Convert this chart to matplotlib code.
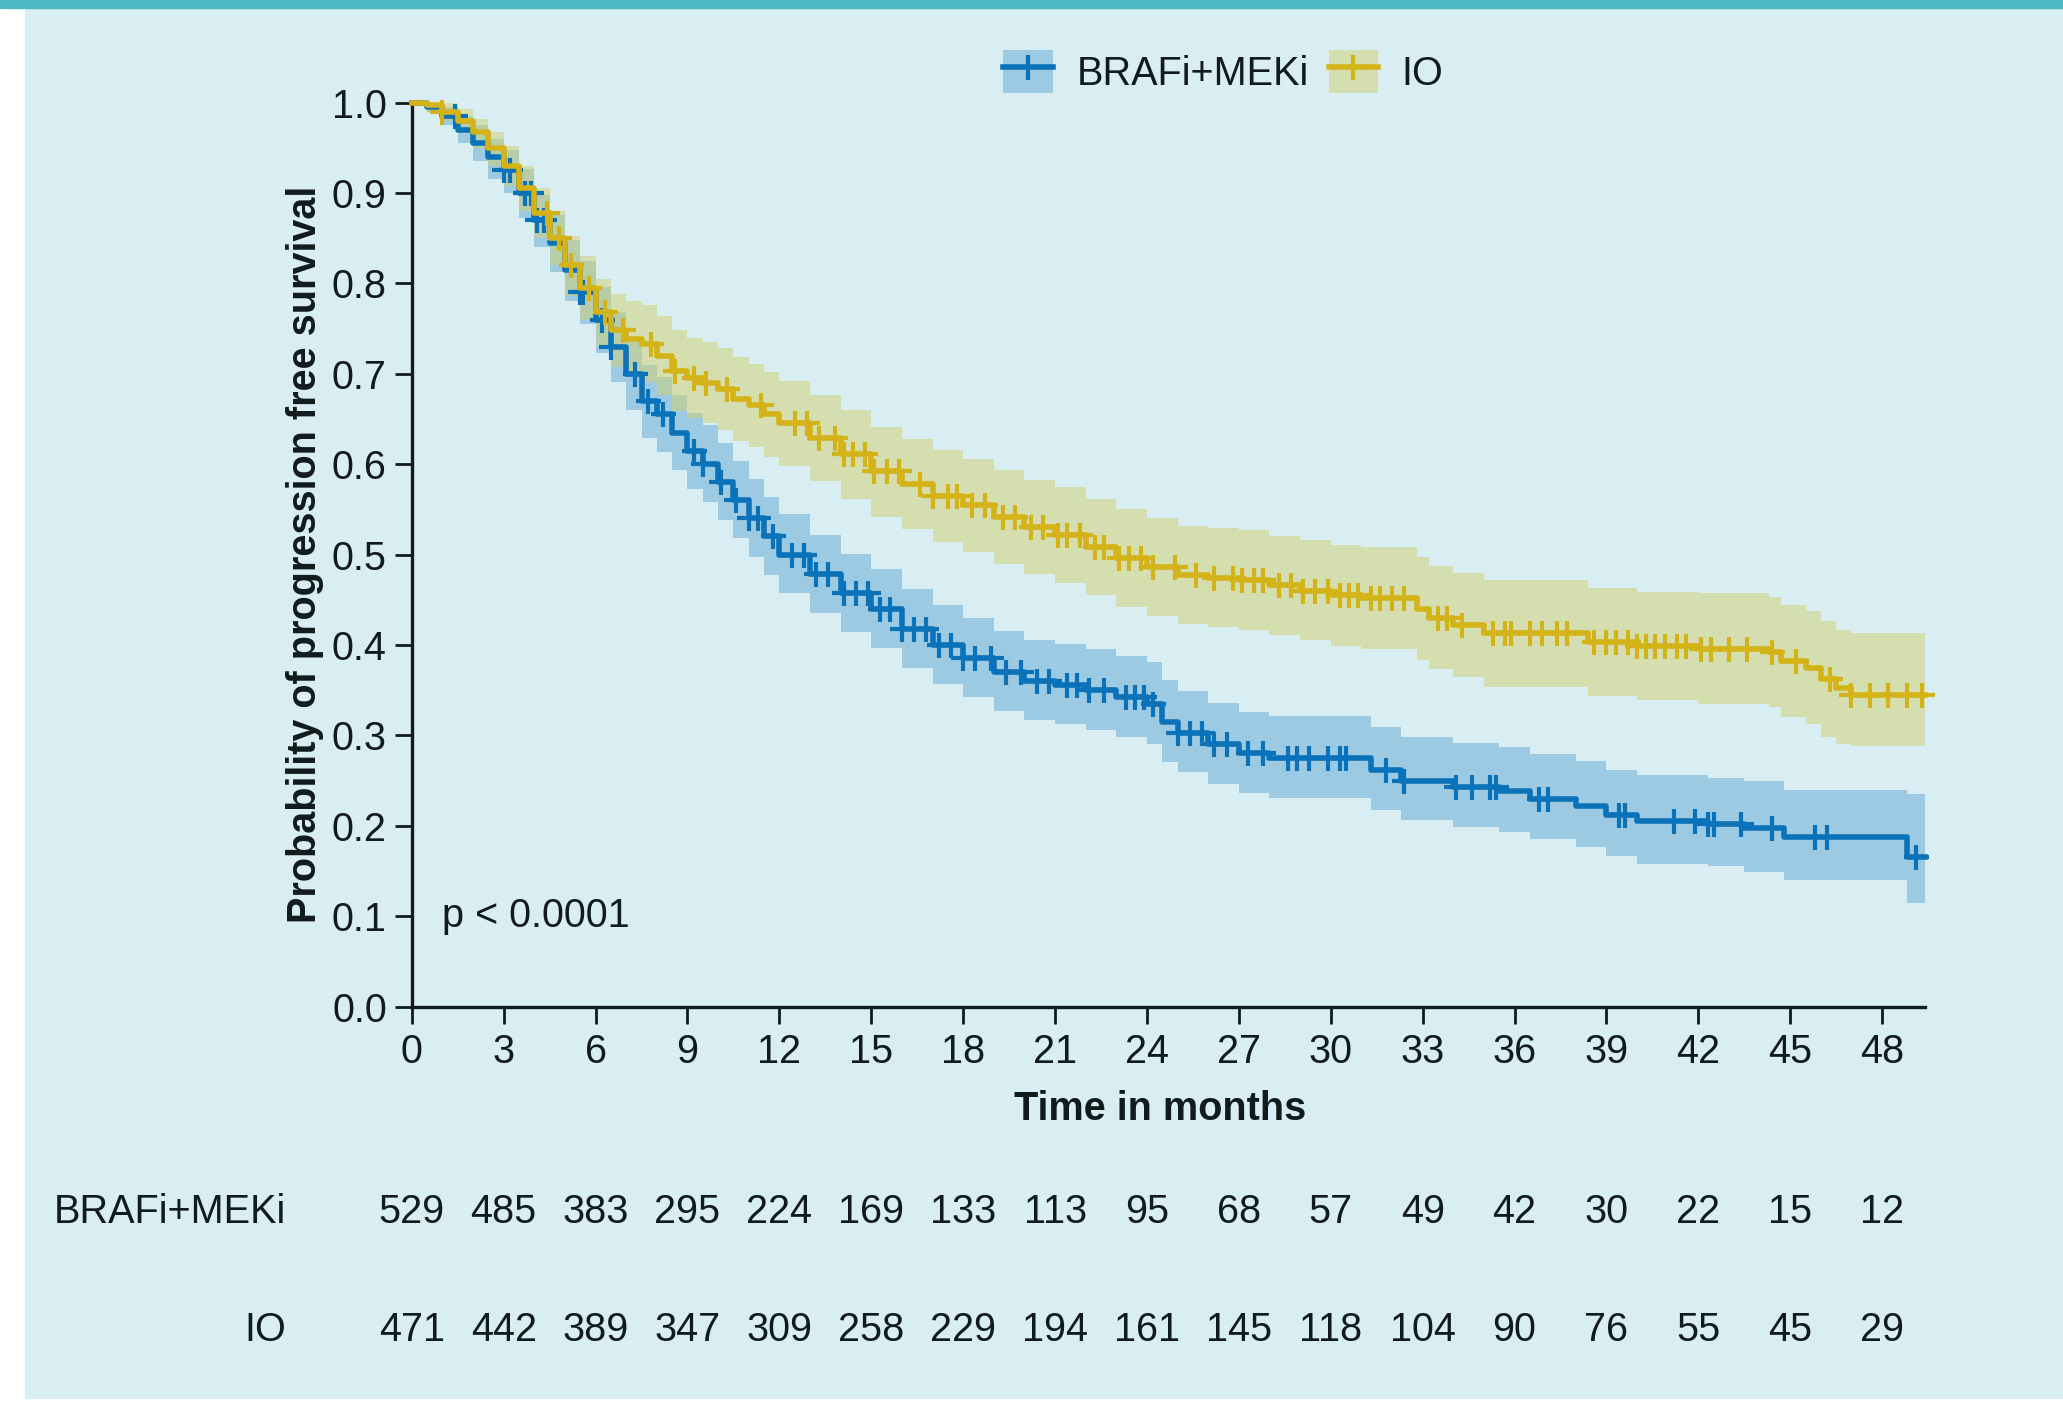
import numpy as np
import matplotlib
matplotlib.use("Agg")
import matplotlib.pyplot as plt
from matplotlib.patches import Rectangle, Patch
from matplotlib.lines import Line2D

plt.rcParams['font.family'] = ['Liberation Sans', 'DejaVu Sans']

# ---- data ----
groups = ["BRAFi+MEKi", "IO"]

# BRAFi+MEKi step curve (time in months, survival, 95% CI)
t_braf = [0, 0.5, 1, 1.5, 2, 2.5, 3, 3.5, 4, 4.5, 5, 5.5, 6, 6.5, 7, 7.5, 8, 8.5, 9, 9.5,
          10, 10.5, 11, 11.5, 12, 13, 14, 15, 16, 17, 18, 19, 20, 21, 22, 23, 24, 24.5,
          25, 26, 27, 28, 31.3, 32.3, 34, 35.5, 36.5, 38, 39, 40, 42.3, 43.5, 44.8, 48.8]
s_braf = [1.0, 0.995, 0.985, 0.97, 0.955, 0.94, 0.925, 0.9, 0.87, 0.845, 0.815, 0.79, 0.76,
          0.73, 0.70, 0.67, 0.655, 0.635, 0.615, 0.6, 0.58, 0.56, 0.54, 0.52, 0.50, 0.478,
          0.457, 0.44, 0.418, 0.40, 0.385, 0.37, 0.36, 0.356, 0.35, 0.342, 0.335, 0.315,
          0.303, 0.29, 0.28, 0.275, 0.262, 0.25, 0.243, 0.238, 0.23, 0.222, 0.212, 0.205,
          0.202, 0.197, 0.188, 0.165]
lo_braf = [1.0, 0.99, 0.975, 0.955, 0.935, 0.915, 0.9, 0.872, 0.84, 0.813, 0.781, 0.755,
           0.723, 0.691, 0.66, 0.629, 0.614, 0.594, 0.573, 0.558, 0.538, 0.518, 0.497,
           0.477, 0.457, 0.435, 0.414, 0.397, 0.375, 0.357, 0.342, 0.327, 0.317, 0.312,
           0.306, 0.298, 0.29, 0.271, 0.259, 0.246, 0.236, 0.231, 0.217, 0.206, 0.199,
           0.193, 0.185, 0.176, 0.166, 0.158, 0.155, 0.149, 0.14, 0.115]
hi_braf = [1.0, 1.0, 0.995, 0.985, 0.975, 0.96, 0.948, 0.927, 0.898, 0.876, 0.848, 0.825,
           0.796, 0.768, 0.74, 0.71, 0.696, 0.677, 0.657, 0.643, 0.623, 0.604, 0.584,
           0.564, 0.545, 0.522, 0.501, 0.484, 0.462, 0.444, 0.43, 0.415, 0.405, 0.401,
           0.395, 0.388, 0.381, 0.361, 0.349, 0.336, 0.326, 0.321, 0.309, 0.298, 0.292,
           0.287, 0.279, 0.272, 0.262, 0.256, 0.253, 0.249, 0.24, 0.235]
cens_braf = [1.4, 3.0, 3.2, 3.7, 3.9, 4.1, 4.3, 5.5, 5.6, 6.2, 6.5, 7.3, 7.7, 8.2, 9.2, 9.5,
             10.1, 10.6, 11.0, 11.3, 11.8, 12.4, 12.8, 13.2, 13.6, 14.1, 14.5, 14.9, 15.3,
             15.6, 16.0, 16.4, 16.8, 17.2, 17.6, 18.0, 18.4, 18.9, 19.4, 19.9, 20.4, 20.8,
             21.4, 21.7, 22.1, 22.6, 23.3, 23.6, 23.9, 24.2, 25.0, 25.4, 25.8, 26.2, 26.6,
             27.3, 27.8, 28.6, 28.9, 29.3, 29.9, 30.3, 30.5, 31.8, 32.4, 34.1, 34.6, 35.2,
             35.4, 36.8, 37.1, 39.4, 39.6, 41.2, 41.9, 42.3, 42.5, 43.4, 44.4, 45.8, 46.2,
             49.1]

# IO step curve
t_io = [0, 0.5, 1, 1.5, 2, 2.5, 3, 3.5, 4, 4.5, 5, 5.5, 6, 6.5, 7, 7.5, 8, 8.5, 9, 9.5,
        10, 10.5, 11, 11.5, 12, 13, 14, 15, 16, 17, 18, 19, 20, 21, 22, 23, 24, 25, 26,
        27, 28, 29, 30, 31, 32.8, 33.2, 34, 35, 38.4, 40, 42, 44.3, 44.7, 45.5, 46, 46.5, 47]
s_io = [1.0, 0.997, 0.99, 0.98, 0.967, 0.95, 0.93, 0.905, 0.878, 0.85, 0.82, 0.795, 0.768,
        0.748, 0.738, 0.733, 0.72, 0.703, 0.695, 0.69, 0.683, 0.672, 0.665, 0.655, 0.645,
        0.629, 0.611, 0.592, 0.578, 0.565, 0.555, 0.542, 0.531, 0.522, 0.508, 0.496, 0.486,
        0.477, 0.474, 0.472, 0.466, 0.46, 0.455, 0.452, 0.44, 0.43, 0.422, 0.413, 0.403,
        0.399, 0.396, 0.392, 0.382, 0.375, 0.362, 0.352, 0.345]
lo_io = [1.0, 0.99, 0.98, 0.966, 0.95, 0.93, 0.908, 0.88, 0.85, 0.82, 0.786, 0.76, 0.73,
         0.708, 0.697, 0.691, 0.677, 0.659, 0.651, 0.646, 0.638, 0.626, 0.619, 0.608, 0.598,
         0.581, 0.562, 0.542, 0.528, 0.514, 0.503, 0.49, 0.478, 0.469, 0.455, 0.442, 0.432,
         0.423, 0.42, 0.417, 0.411, 0.405, 0.399, 0.396, 0.383, 0.373, 0.364, 0.354, 0.343,
         0.339, 0.335, 0.331, 0.32, 0.312, 0.298, 0.29, 0.288]
hi_io = [1.0, 1.0, 1.0, 0.993, 0.982, 0.968, 0.952, 0.93, 0.906, 0.88, 0.852, 0.83, 0.805,
         0.788, 0.78, 0.776, 0.764, 0.748, 0.74, 0.735, 0.728, 0.718, 0.711, 0.702, 0.692,
         0.677, 0.66, 0.641, 0.628, 0.616, 0.606, 0.594, 0.583, 0.575, 0.562, 0.55, 0.54,
         0.532, 0.529, 0.527, 0.521, 0.516, 0.511, 0.508, 0.497, 0.487, 0.48, 0.472, 0.463,
         0.459, 0.457, 0.453, 0.444, 0.438, 0.426, 0.416, 0.413]
cens_io = [1.0, 4.4, 4.8, 5.2, 5.8, 6.3, 6.9, 7.8, 8.6, 9.2, 9.6, 10.3, 11.4, 12.5, 12.9,
           13.3, 13.8, 14.1, 14.4, 14.8, 15.1, 15.5, 15.9, 16.6, 17.0, 17.5, 17.8, 18.3,
           18.7, 19.3, 19.7, 20.2, 20.6, 21.1, 21.4, 21.8, 22.3, 22.6, 23.1, 23.4, 23.8,
           24.2, 24.9, 25.6, 26.2, 26.8, 27.1, 27.5, 27.8, 28.3, 28.7, 29.1, 29.5, 29.9,
           30.3, 30.6, 30.9, 31.3, 31.6, 32.0, 32.4, 33.5, 33.8, 34.3, 35.3, 35.7, 35.9,
           36.5, 36.9, 37.4, 37.7, 38.6, 39.0, 39.3, 39.7, 40.0, 40.3, 40.6, 40.9, 41.3,
           41.6, 42.1, 42.4, 43.0, 43.6, 44.4, 45.2, 46.3, 47.0, 47.6, 48.2, 48.8, 49.3]

# numbers at risk
risk_times = list(range(0, 49, 3))
risk_braf = [529, 485, 383, 295, 224, 169, 133, 113, 95, 68, 57, 49, 42, 30, 22, 15, 12]
risk_io = [471, 442, 389, 347, 309, 258, 229, 194, 161, 145, 118, 104, 90, 76, 55, 45, 29]

t_end = 49.4

# ---- styling ----
bg = '#d9eef2'
teal = '#4db7c3'
blue = '#0a72b8'
blue_fill = '#5fa8d4'
yellow = '#d4b318'
yellow_fill = '#d1d06e'
ink = '#111a1c'
fs = 28.5

W, H = 2063, 1403
fig = plt.figure(figsize=(W / 100, H / 100), dpi=100)
fig.patch.set_facecolor('white')
fig.add_artist(Rectangle((25 / W, 5 / H), 1 - 25 / W, 1 - 13 / H,
                         transform=fig.transFigure, color=bg, zorder=-10))
fig.add_artist(Rectangle((0, 1 - 8 / H), 1, 8 / H,
                         transform=fig.transFigure, color=teal, zorder=-9))

ax = fig.add_axes([411.8 / W, 1 - 1006.5 / H, (1925 - 411.8) / W, (1006.5 - 102.6) / H])
ax.set_facecolor('none')


def extend(t, v):
    return list(t) + [t_end], list(v) + [v[-1]]


def at(t, s, c):
    idx = np.searchsorted(t, c, side='right') - 1
    return np.array(s)[idx]


series = [
    (t_braf, s_braf, lo_braf, hi_braf, cens_braf, blue, blue_fill, 3),
    (t_io, s_io, lo_io, hi_io, cens_io, yellow, yellow_fill, 4),
]
for t, s, lo, hi, cens, col, fcol, z in series:
    tt, lo2 = extend(t, lo)
    _, hi2 = extend(t, hi)
    ax.fill_between(tt, lo2, hi2, step='post', color=fcol, alpha=0.5, lw=0, zorder=1)
for t, s, lo, hi, cens, col, fcol, z in series:
    tt, ss = extend(t, s)
    ax.step(tt, ss, where='post', color=col, lw=4, zorder=z, clip_on=False)
    ax.plot(cens, at(t, s, cens), ls='none', marker='+', ms=18, mew=3,
            color=col, zorder=z, clip_on=False)

ax.set_xlim(0, t_end)
ax.set_ylim(0, 1.0)
ax.set_xticks(risk_times)
ax.set_yticks(np.arange(0, 1.01, 0.1))
ax.set_yticklabels([f'{v:.1f}' for v in np.arange(0, 1.01, 0.1)])
for sp in ['top', 'right']:
    ax.spines[sp].set_visible(False)
for sp in ['left', 'bottom']:
    ax.spines[sp].set_linewidth(2.4)
    ax.spines[sp].set_color(ink)
ax.spines['bottom'].set_bounds(0, t_end)
ax.tick_params(direction='out', length=12, width=2, colors=ink, labelsize=fs)
ax.tick_params(axis='x', pad=7)
ax.tick_params(axis='y', pad=6)

ax.set_xlabel('Time in months', fontsize=fs, fontweight='bold', color=ink)
ax.xaxis.set_label_coords(0.4945, -0.092)
ax.set_ylabel('Probability of progression free survival', fontsize=fs,
              fontweight='bold', color=ink)
ax.yaxis.set_label_coords(-0.058, 0.5)

ax.text(1.0, 0.1, 'p < 0.0001', fontsize=fs, color=ink, va='center', ha='left')

# number at risk table
tr = ax.get_xaxis_transform()
for label, vals, yy in [(groups[0], risk_braf, -0.227), (groups[1], risk_io, -0.358)]:
    ax.text(-4.1, yy, label, transform=tr, ha='right', va='center', fontsize=fs,
            color=ink, clip_on=False)
    for x, v in zip(risk_times, vals):
        ax.text(x, yy, str(v), transform=tr, ha='center', va='center', fontsize=fs,
                color=ink, clip_on=False)

# legend
handles = [
    (Patch(facecolor=blue_fill, alpha=0.5, edgecolor='none'),
     Line2D([], [], color=blue, lw=4, marker='+', ms=18, mew=3)),
    (Patch(facecolor=yellow_fill, alpha=0.5, edgecolor='none'),
     Line2D([], [], color=yellow, lw=4, marker='+', ms=18, mew=3)),
]
fig.legend(handles, groups, loc='center', bbox_to_anchor=(0.593, 0.949), ncol=2,
           frameon=False, fontsize=fs, handlelength=1.25, handleheight=1.3,
           handletextpad=0.6, columnspacing=0.5, labelcolor=ink)

fig.savefig('out.png', dpi=100, facecolor=fig.get_facecolor())
